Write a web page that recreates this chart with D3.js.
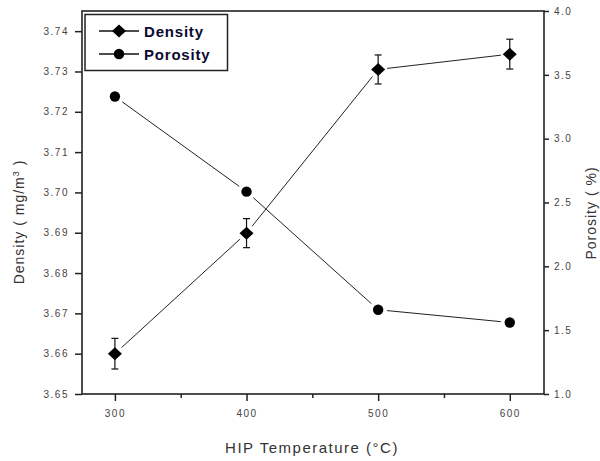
<!DOCTYPE html>
<html>
<head>
<meta charset="utf-8">
<script src="https://cdn.jsdelivr.net/npm/d3@7"></script>
<style>
  body { margin: 0; background: #fff; }
  svg { display: block; }
  .tick text { font-family: "Liberation Sans", Arial, sans-serif; font-size: 10px; fill: #444; letter-spacing: 1.5px; }
  .title { font-family: "Liberation Sans", Arial, sans-serif; font-size: 14px; fill: #333; letter-spacing: 1px; }
</style>
</head>
<body>
<div class="chart"></div>
<script>
// HIP temperatures (°C)
var temps = [ 300 , 400 , 500 , 600 ];
// density (mg/m3) with error bars
var density = [ 3.6600 , 3.6899 , 3.7305 , 3.7343 ];
var densityErr = [ 0.0038 , 0.0036 , 0.0036 , 0.0037 ];
// porosity (%)
var porosity = [ 3.33 , 2.585 , 1.66 , 1.56 ];

var xTicks = [ 300 , 400 , 500 , 600 ];
var xMinor = [ 350 , 450 , 550 ];
var leftTicks = [ 3.65 , 3.66 , 3.67 , 3.68 , 3.69 , 3.70 , 3.71 , 3.72 , 3.73 , 3.74 ];
var rightTicks = [ 1.0 , 1.5 , 2.0 , 2.5 , 3.0 , 3.5 , 4.0 ];

var W = 600, H = 461;
var m = { left: 82 , right: 56 , top: 11 , bottom: 67 };

var svg = d3.select( '.chart' ).append( 'svg' )
    .attr( 'width' , W ).attr( 'height' , H );

var x = d3.scaleLinear().domain( [ 275 , 626 ] ).range( [ m.left , W - m.right ] );
var yL = d3.scaleLinear().domain( [ 3.65 , 3.745 ] ).range( [ H - m.bottom , m.top ] );
var yR = d3.scaleLinear().domain( [ 1 , 4 ] ).range( [ H - m.bottom , m.top ] );

var axisColor = '#222';

//bottom axis, major + minor ticks
svg.append( 'g' ).attr( 'transform' , 'translate(0,' + ( H - m.bottom ) + ')' )
    .call( d3.axisBottom( x ).tickValues( xTicks ).tickSize( 7 ).tickPadding( 9 ).tickFormat( d3.format( 'd' ) ) );
svg.append( 'g' ).attr( 'transform' , 'translate(0,' + ( H - m.bottom ) + ')' )
    .call( d3.axisBottom( x ).tickValues( xMinor ).tickSize( 4 ).tickFormat( '' ) );

svg.append( 'g' ).attr( 'transform' , 'translate(' + m.left + ',0)' )
    .call( d3.axisLeft( yL ).tickValues( leftTicks ).tickSize( 7 ).tickPadding( 6 ).tickFormat( d3.format( '.2f' ) ) );

svg.append( 'g' ).attr( 'transform' , 'translate(' + ( W - m.right ) + ',0)' )
    .call( d3.axisRight( yR ).tickValues( rightTicks ).tickSize( 5 ).tickPadding( 5 ).tickFormat( d3.format( '.1f' ) ) );

svg.selectAll( '.domain' ).remove();
svg.selectAll( '.tick line' ).attr( 'stroke' , axisColor ).attr( 'stroke-width' , 1.5 );

//frame
svg.append( 'rect' )
    .attr( 'x' , m.left ).attr( 'y' , m.top )
    .attr( 'width' , W - m.left - m.right ).attr( 'height' , H - m.top - m.bottom )
    .attr( 'fill' , 'none' ).attr( 'stroke' , axisColor ).attr( 'stroke-width' , 1.6 );

//connecting lines, leaving a small gap around each marker
function segments( ys ) {
    var out = [];
    for ( var i = 0 ; i < temps.length - 1 ; i++ ) {
        var x1 = x( temps[ i ] ), y1 = ys[ i ], x2 = x( temps[ i + 1 ] ), y2 = ys[ i + 1 ];
        var dx = x2 - x1, dy = y2 - y1, len = Math.sqrt( dx * dx + dy * dy ), g = 9;
        out.push( { x1: x1 + dx / len * g , y1: y1 + dy / len * g , x2: x2 - dx / len * g , y2: y2 - dy / len * g } );
    }
    return out;
}
var dPts = density.map( function( d ){ return yL( d ) } );
var pPts = porosity.map( function( d ){ return yR( d ) } );

svg.selectAll( 'line.dseg' ).data( segments( dPts ) ).enter().append( 'line' )
    .attr( 'class' , 'dseg' )
    .attr( 'x1' , function( d ){ return d.x1 } ).attr( 'y1' , function( d ){ return d.y1 } )
    .attr( 'x2' , function( d ){ return d.x2 } ).attr( 'y2' , function( d ){ return d.y2 } )
    .attr( 'stroke' , '#222' ).attr( 'stroke-width' , 1 );
svg.selectAll( 'line.pseg' ).data( segments( pPts ) ).enter().append( 'line' )
    .attr( 'class' , 'pseg' )
    .attr( 'x1' , function( d ){ return d.x1 } ).attr( 'y1' , function( d ){ return d.y1 } )
    .attr( 'x2' , function( d ){ return d.x2 } ).attr( 'y2' , function( d ){ return d.y2 } )
    .attr( 'stroke' , '#222' ).attr( 'stroke-width' , 1 );

//error bars
var eb = svg.selectAll( 'g.err' ).data( density ).enter().append( 'g' ).attr( 'class' , 'err' );
eb.append( 'line' )
    .attr( 'x1' , function( d , i ){ return x( temps[ i ] ) } ).attr( 'x2' , function( d , i ){ return x( temps[ i ] ) } )
    .attr( 'y1' , function( d , i ){ return yL( d + densityErr[ i ] ) } ).attr( 'y2' , function( d , i ){ return yL( d - densityErr[ i ] ) } )
    .attr( 'stroke' , '#111' ).attr( 'stroke-width' , 1.2 );
[ 1 , -1 ].forEach( function( s ) {
    eb.append( 'line' )
        .attr( 'x1' , function( d , i ){ return x( temps[ i ] ) - 3.5 } ).attr( 'x2' , function( d , i ){ return x( temps[ i ] ) + 3.5 } )
        .attr( 'y1' , function( d , i ){ return yL( d + s * densityErr[ i ] ) } ).attr( 'y2' , function( d , i ){ return yL( d + s * densityErr[ i ] ) } )
        .attr( 'stroke' , '#111' ).attr( 'stroke-width' , 1.2 );
});

//markers
function diamond( cx , cy ) {
    return 'M' + cx + ',' + ( cy - 6.5 ) + 'L' + ( cx + 7 ) + ',' + cy + 'L' + cx + ',' + ( cy + 6.5 ) + 'L' + ( cx - 7 ) + ',' + cy + 'Z';
}
svg.selectAll( 'path.dmark' ).data( density ).enter().append( 'path' )
    .attr( 'class' , 'dmark' )
    .attr( 'd' , function( d , i ){ return diamond( x( temps[ i ] ) , yL( d ) ) } )
    .attr( 'fill' , '#000' );
svg.selectAll( 'circle.pmark' ).data( porosity ).enter().append( 'circle' )
    .attr( 'class' , 'pmark' )
    .attr( 'cx' , function( d , i ){ return x( temps[ i ] ) } )
    .attr( 'cy' , function( d ){ return yR( d ) } )
    .attr( 'r' , 5.2 ).attr( 'fill' , '#000' );

//legend
var leg = svg.append( 'g' );
leg.append( 'rect' ).attr( 'x' , 85 ).attr( 'y' , 14.5 ).attr( 'width' , 142.5 ).attr( 'height' , 56 )
    .attr( 'fill' , '#fff' ).attr( 'stroke' , axisColor ).attr( 'stroke-width' , 1.5 );
var legItems = [ 'Density' , 'Porosity' ];
legItems.forEach( function( name , i ) {
    var ly = 31 + i * 23;
    leg.append( 'line' ).attr( 'x1' , 99 ).attr( 'x2' , 139 ).attr( 'y1' , ly ).attr( 'y2' , ly )
        .attr( 'stroke' , '#111' ).attr( 'stroke-width' , 1.5 );
    if ( i === 0 ) leg.append( 'path' ).attr( 'd' , diamond( 119 , ly ) ).attr( 'fill' , '#000' );
    else leg.append( 'circle' ).attr( 'cx' , 119 ).attr( 'cy' , ly ).attr( 'r' , 5.2 ).attr( 'fill' , '#000' );
    leg.append( 'text' ).attr( 'x' , 144 ).attr( 'y' , ly + 5.5 )
        .attr( 'font-family' , 'Liberation Sans, Arial, sans-serif' ).attr( 'font-size' , 15 )
        .attr( 'letter-spacing' , 0.8 ).attr( 'font-weight' , 'bold' )
        .attr( 'fill' , '#0a0a30' ).text( name );
});

//axis titles
svg.append( 'text' ).attr( 'class' , 'title' )
    .attr( 'x' , 312 ).attr( 'y' , 453 ).attr( 'text-anchor' , 'middle' )
    .style( 'font-size' , '15px' ).style( 'letter-spacing' , '1.5px' )
    .text( 'HIP Temperature (°C)' );

var lt = svg.append( 'text' ).attr( 'class' , 'title' )
    .attr( 'transform' , 'translate(24,222) rotate(-90)' ).attr( 'text-anchor' , 'middle' );
lt.append( 'tspan' ).text( 'Density ( mg/m' );
lt.append( 'tspan' ).attr( 'dy' , -5 ).attr( 'font-size' , 9 ).text( '3' );
lt.append( 'tspan' ).attr( 'dy' , 5 ).text( ' )' );

svg.append( 'text' ).attr( 'class' , 'title' )
    .attr( 'transform' , 'translate(596,213) rotate(-90)' ).attr( 'text-anchor' , 'middle' )
    .text( 'Porosity ( %)' );
</script>
</body>
</html>
